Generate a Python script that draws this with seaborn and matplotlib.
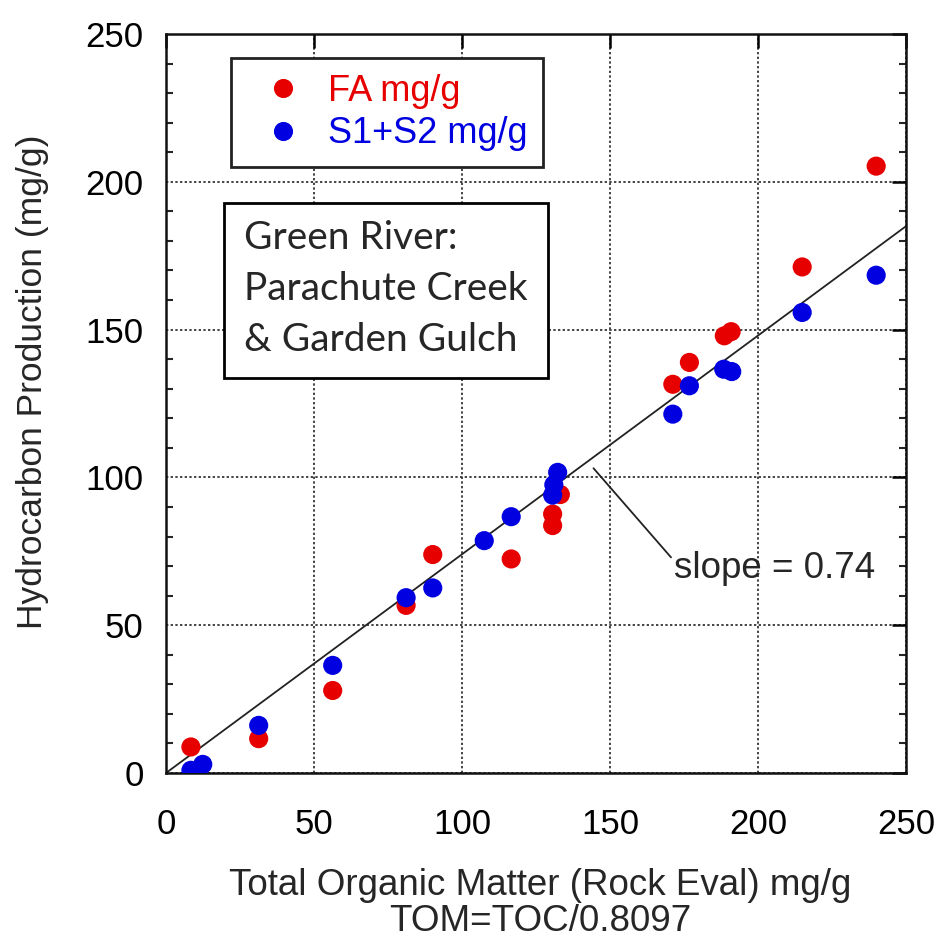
import numpy as np
import pandas as pd
import seaborn as sns
import matplotlib.pyplot as plt
from matplotlib.patches import Rectangle
from matplotlib.ticker import MultipleLocator

sns.set_theme(style="white")
plt.rcParams['font.family'] = ['Liberation Sans', 'DejaVu Sans']

# Data
fa_tom = [8.4, 31.3, 56.3, 81.1, 90.1, 116.6, 130.6, 130.6, 133.2,
          171.2, 176.8, 188.6, 190.9, 214.9, 239.9]
fa_val = [8.8, 11.6, 27.9, 56.7, 73.9, 72.4, 83.7, 87.6, 94.2,
          131.5, 138.9, 147.9, 149.3, 171.2, 205.3]
s_tom = [8.4, 12.4, 31.3, 56.3, 81.1, 90.1, 107.5, 116.6, 130.6, 131.0,
         132.3, 171.2, 176.8, 188.4, 191.1, 214.9, 239.9]
s_val = [0.9, 2.9, 16.1, 36.4, 59.3, 62.6, 78.6, 86.7, 94.0, 97.5,
         101.7, 121.4, 131.0, 136.6, 135.8, 155.8, 168.4]
series_names = ["FA mg/g", "S1+S2 mg/g"]
slope = 0.74
fit_x = [0, 250]

df = pd.DataFrame({
    "TOM": fa_tom + s_tom,
    "HC": fa_val + s_val,
    "Series": [series_names[0]] * len(fa_tom) + [series_names[1]] * len(s_tom),
})
palette = {series_names[0]: "#e60000", series_names[1]: "#0000e0"}

fig = plt.figure(figsize=(9.37, 9.40), dpi=100)
ax = fig.add_axes([0.1772, 0.1777, 0.7898, 0.7861])

ax.plot(fit_x, [slope * v for v in fit_x], color="#222222", lw=1.3, zorder=2)
sns.scatterplot(data=df, x="TOM", y="HC", hue="Series", palette=palette,
                s=190, edgecolor="none", ax=ax, zorder=3, legend=True)

ax.set_xlim(0, 250)
ax.set_ylim(0, 250)
ax.xaxis.set_major_locator(MultipleLocator(50))
ax.yaxis.set_major_locator(MultipleLocator(50))
ax.yaxis.set_minor_locator(MultipleLocator(10))
ax.grid(True, which="major", linestyle=(0, (1.2, 1.2)), color="#444444", lw=1.4)
ax.tick_params(axis="both", which="major", direction="in", length=10, width=1.8,
               labelsize=25, top=True, right=True, colors="black")
ax.tick_params(axis="x", pad=25)
ax.tick_params(axis="y", pad=16)
ax.tick_params(axis="y", which="minor", direction="in", length=5, width=1.5,
               left=True, right=True)
for sp in ax.spines.values():
    sp.set_color("#111111")
    sp.set_linewidth(1.8)

ax.set_xlabel("Total Organic Matter (Rock Eval) mg/g\nTOM=TOC/0.8097",
              fontsize=26.5, linespacing=1.05)
ax.xaxis.set_label_coords(0.505, -0.128)
ax.xaxis.label.set_va("top")
ax.set_ylabel("Hydrocarbon Production (mg/g)", fontsize=25.5)
ax.yaxis.set_label_coords(-0.158, 0.53)

# legend
leg = ax.legend(loc="upper left", bbox_to_anchor=(0.088, 0.967), fontsize=26,
                frameon=True, fancybox=False, borderpad=0.43, handletextpad=0.25,
                labelspacing=0.2, borderaxespad=0, markerscale=1.0,
                handlelength=2.0, framealpha=1)
leg.get_frame().set_edgecolor("#222222")
leg.get_frame().set_linewidth(2)
for txt, name in zip(leg.get_texts(), series_names):
    txt.set_color(palette[name])

# text box
ax.add_patch(Rectangle((0.078, 0.534), 0.438, 0.237, transform=ax.transAxes,
                       facecolor="white", edgecolor="black", lw=2, zorder=4))
ax.text(0.105, 0.749, "Green River:\nParachute Creek\n& Garden Gulch",
        transform=ax.transAxes, family=["Lato", "DejaVu Sans"], fontsize=28,
        va="top", ha="left", linespacing=1.53, zorder=5)

# slope annotation
ax.annotate("slope = 0.74", xy=(144.4, 103.1), xytext=(171.7, 69.3),
            fontsize=26.5, va="center", ha="left",
            arrowprops=dict(arrowstyle="-", color="#222222", lw=1.3,
                            shrinkA=0, shrinkB=0,
                            relpos=(0.0, 0.7)))

fig.savefig("out.png", dpi=100)
